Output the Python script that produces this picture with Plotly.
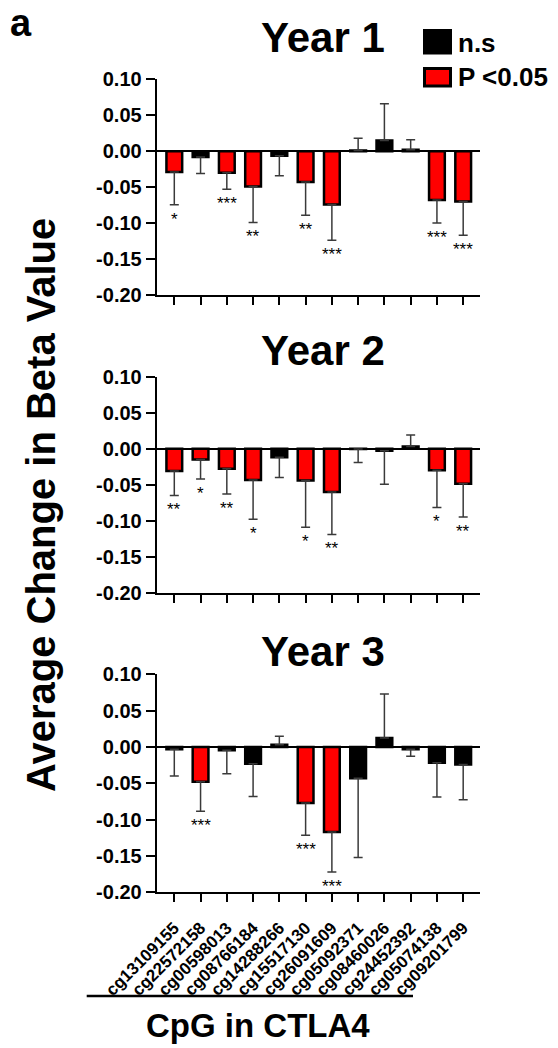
import plotly.graph_objects as go

W, H = 558, 1048

cpgs = ["cg13109155", "cg22572158", "cg00598013", "cg08766184", "cg14288266", "cg15517130",
        "cg26091609", "cg05092371", "cg08460026", "cg24452392", "cg05074138", "cg09201799"]

year_titles = ["Year 1", "Year 2", "Year 3"]

y1_mean = [-0.029, -0.008, -0.030, -0.049, -0.0065, -0.043, -0.074, 0.001, 0.015, 0.002, -0.068, -0.070]
y1_sd = [0.0455, 0.023, 0.023, 0.050, 0.0275, 0.046, 0.050, 0.017, 0.051, 0.014, 0.032, 0.047]
y1_sig = ["*", "", "***", "**", "", "**", "***", "", "", "", "***", "***"]

y2_mean = [-0.031, -0.015, -0.028, -0.0435, -0.012, -0.044, -0.060, -0.0005, -0.003, 0.003, -0.030, -0.0486]
y2_sd = [0.034, 0.027, 0.035, 0.0545, 0.028, 0.065, 0.059, 0.0185, 0.0465, 0.016, 0.0515, 0.0464]
y2_sig = ["**", "*", "**", "*", "", "*", "**", "", "", "", "*", "**"]

y3_mean = [-0.003, -0.048, -0.0046, -0.023, 0.003, -0.077, -0.117, -0.043, 0.0124, -0.003, -0.0216, -0.024]
y3_sd = [0.037, 0.0405, 0.0324, 0.045, 0.0117, 0.0446, 0.055, 0.109, 0.0606, 0.0098, 0.0474, 0.0485]
y3_sig = ["", "***", "", "", "", "***", "***", "", "", "", "", ""]

ytick_vals = [0.10, 0.05, 0.00, -0.05, -0.10, -0.15, -0.20]
ytick_text = ["0.10", "0.05", "0.00", "-0.05", "-0.10", "-0.15", "-0.20"]

legend_labels = ["n.s", "P <0.05"]
x_title = "CpG in CTLA4"
y_title = "Average Change in Beta Value"
panel_label = "a"

FONT = "Liberation Sans, Arial, sans-serif"
RED = "#ff0000"


def px(x):
    return x / W


def py(y):
    return 1 - y / H


panels = [(y1_mean, y1_sd, y1_sig), (y2_mean, y2_sd, y2_sig), (y3_mean, y3_sd, y3_sig)]
# pixel extents of each plot area (top, bottom)
ydom_px = [(79.3, 295.0), (376.7, 592.7), (674.3, 892.3)]
title_cy = [38, 351, 651]
x_left, x_right = 156.7, 480.0

fig = go.Figure()
annotations = []
for k, (mean, sd, sig) in enumerate(panels):
    n = k + 1
    xa = "x" if n == 1 else f"x{n}"
    ya = "y" if n == 1 else f"y{n}"
    colors = [RED if s else "black" for s in sig]
    fig.add_trace(go.Bar(
        x=cpgs, y=mean, xaxis=xa, yaxis=ya, width=0.6,
        marker=dict(color=colors, line=dict(color="black", width=2.5)),
        error_y=dict(type="data", symmetric=False,
                     array=[s if m >= 0 else 0 for m, s in zip(mean, sd)],
                     arrayminus=[s if m < 0 else 0 for m, s in zip(mean, sd)],
                     color="#3a3a3a", thickness=1.5, width=4.5),
        showlegend=False, hoverinfo="skip"))
    for c, m, s, st in zip(cpgs, mean, sd, sig):
        if st:
            annotations.append(dict(x=c, y=m - s, xref=xa, yref=ya, text=st, showarrow=False,
                                    yanchor="top", yshift=-3,
                                    font=dict(family=FONT, size=17, color="black")))
    top, bot = ydom_px[k]
    axis_common = dict(showline=True, linecolor="black", linewidth=2, ticks="outside",
                       tickwidth=2, tickcolor="black", showgrid=False, mirror=False,
                       automargin=False)
    fig.update_layout(**{
        ("xaxis" if n == 1 else f"xaxis{n}"): dict(
            domain=[px(x_left), px(x_right)], anchor=ya, range=[-0.67, 11.64],
            type="category", ticklen=8, showticklabels=(n == 3), tickangle=-45,
            ticklabelstandoff=9,
            tickfont=dict(family=FONT, size=17, color="black", weight="bold"),
            zeroline=False, **axis_common),
        ("yaxis" if n == 1 else f"yaxis{n}"): dict(
            domain=[py(bot), py(top)], anchor=xa, range=[-0.20, 0.10],
            tickvals=ytick_vals, ticktext=ytick_text, ticklen=9,
            tickfont=dict(family=FONT, size=20, color="black", weight="bold"),
            zeroline=True, zerolinecolor="black", zerolinewidth=2, **axis_common),
    })
    annotations.append(dict(x=px(323), y=py(title_cy[k]), xref="paper", yref="paper",
                            text=year_titles[k], showarrow=False, xanchor="center", yanchor="middle",
                            font=dict(family=FONT, size=42, color="black", weight="bold")))

# legend
shapes = [
    dict(type="rect", xref="paper", yref="paper", x0=px(424.5), x1=px(450.5), y0=py(53), y1=py(30.5),
         fillcolor="black", line=dict(color="black", width=3)),
    dict(type="rect", xref="paper", yref="paper", x0=px(424.5), x1=px(450.5), y0=py(86), y1=py(68.5),
         fillcolor=RED, line=dict(color="black", width=3)),
    dict(type="line", xref="paper", yref="paper", x0=px(86.7), x1=px(413), y0=py(996), y1=py(996),
         line=dict(color="black", width=2.5)),
]
for lbl, cy in zip(legend_labels, [43, 77]):
    annotations.append(dict(x=px(456), y=py(cy), xref="paper", yref="paper", text=lbl, showarrow=False,
                            xanchor="left", yanchor="middle",
                            font=dict(family=FONT, size=26, color="black", weight="bold")))

annotations.append(dict(x=px(258), y=py(1046), xref="paper", yref="paper", text=x_title, showarrow=False,
                        xanchor="center", yanchor="bottom",
                        font=dict(family=FONT, size=33, color="black", weight="bold")))
annotations.append(dict(x=px(41), y=py(505), xref="paper", yref="paper", text=y_title, showarrow=False,
                        textangle=-90, xanchor="center", yanchor="middle",
                        font=dict(family=FONT, size=40, color="black", weight="bold")))
annotations.append(dict(x=px(21), y=py(0), xref="paper", yref="paper", text=panel_label, showarrow=False,
                        xanchor="center", yanchor="top",
                        font=dict(family=FONT, size=38, color="black", weight="bold")))

fig.update_layout(width=W, height=H, margin=dict(l=0, r=0, t=0, b=0, autoexpand=False),
                  template="none",
                  paper_bgcolor="white", plot_bgcolor="white",
                  annotations=annotations, shapes=shapes, bargap=0.4,
                  font=dict(family=FONT, color="black"))

fig.write_html("out.html", config={"displayModeBar": False},
               post_script="document.body.style.margin='0px';document.body.style.padding='0px';")
